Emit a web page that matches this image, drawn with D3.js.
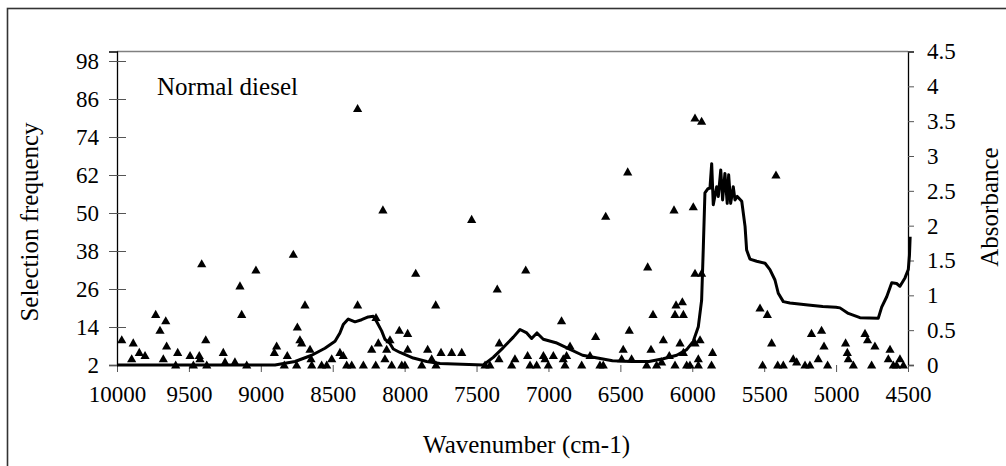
<!DOCTYPE html>
<html>
<head>
<meta charset="utf-8">
<script src="https://cdn.jsdelivr.net/npm/d3@7"></script>
<style>
  body { margin: 0; background: #fff; }
  svg { display: block; }
</style>
</head>
<body>
<svg width="1006" height="466" font-family="Liberation Serif, Times New Roman, serif"></svg>
<script>

// selection frequency markers (wavenumber, frequency)
const markerWn = [
  9967, 9898, 9887, 9845, 9805, 9731, 9701, 9678, 9661, 9655, 9592, 9578, 9492, 9469, 9428, 9423,
  9411, 9383, 9376, 9261, 9249, 9180, 9145, 9133, 9098, 9034, 8906, 8890, 8837, 8816, 8774, 8751,
  8746, 8728, 8716, 8693, 8658, 8651, 8646, 8577, 8542, 8507, 8450, 8427, 8403, 8368, 8327, 8327,
  8287, 8229, 8201, 8199, 8183, 8151, 8137, 8125, 8102, 8090, 8037, 8020, 7998, 7979, 7979, 7923,
  7881, 7840, 7812, 7784, 7782, 7747, 7673, 7603, 7534, 7441, 7407, 7356, 7342, 7344, 7256, 7233,
  7158, 7145, 7128, 7082, 7035, 7024, 7001, 6966, 6909, 6897, 6885, 6874, 6850, 6769, 6711, 6672,
  6642, 6619, 6602, 6491, 6480, 6449, 6438, 6422, 6317, 6310, 6287, 6273, 6248, 6213, 6201, 6160,
  6127, 6120, 6113, 6120, 6085, 6069, 6062, 6062, 6039, 6016, 5993, 5981, 5935, 5981, 5935, 5981,
  5946, 5958, 5958, 5859, 5866, 5529, 5478, 5448, 5418, 5511, 5406, 5367, 5298, 5274, 5216, 5182,
  5171, 5101, 5084, 5124, 5059, 4934, 4922, 4915, 4880, 4799, 4781, 4730, 4753, 4625, 4637, 4602,
  4579, 4556, 4532
];
const markerFreq = [
  10, 4, 9, 6, 5, 18, 13, 4, 16, 8, 2, 6, 5, 2, 5, 4,
  34, 10, 2, 6, 3, 3, 27, 18, 2, 32, 6, 8, 2, 5, 37, 2,
  14, 10, 9, 21, 7, 4, 2, 2, 2, 4, 6, 5, 2, 2, 83, 21,
  2, 7, 2, 17, 9, 51, 4, 7, 10, 2, 13, 2, 2, 12, 7, 31,
  2, 7, 4, 21, 2, 6, 6, 6, 48, 2, 2, 26, 9, 4, 2, 4,
  32, 5, 2, 2, 5, 4, 2, 5, 16, 4, 2, 5, 8, 2, 5, 11,
  2, 2, 49, 4, 7, 63, 13, 4, 2, 33, 7, 18, 2, 3, 10, 5,
  51, 18, 21, 2, 9, 22, 18, 6, 2, 2, 52, 80, 79, 31, 31, 9,
  10, 4, 2, 6, 2, 20, 18, 9, 62, 2, 2, 2, 4, 3, 2, 2,
  12, 13, 8, 4, 2, 9, 6, 4, 2, 12, 10, 8, 2, 7, 4, 2,
  2, 4, 2
];

// absorbance spectrum (wavenumber, absorbance)
const specWn = [
  10000, 8901, 8762, 8646, 8554, 8484, 8450, 8427, 8392, 8345, 8299, 8253, 8218, 8194, 8160, 8137,
  8102, 8079, 8032, 7940, 7847, 7754, 7453, 7384, 7314, 7244, 7198, 7151, 7117, 7080, 7036, 6948,
  6857, 6763, 6659, 6555, 6421, 6301, 6202, 6108, 6039, 5993, 5958, 5935, 5923, 5912, 5891, 5877,
  5865, 5854, 5830, 5819, 5802, 5789, 5773, 5757, 5747, 5733, 5715, 5703, 5687, 5656, 5633, 5622,
  5599, 5552, 5494, 5460, 5425, 5402, 5367, 5321, 5195, 5093, 5001, 4973, 4915, 4834, 4707, 4683,
  4648, 4613, 4579, 4556, 4521, 4498, 4490, 4485
];
const specAbs = [
  0, 0, 0.05, 0.14, 0.24, 0.34, 0.46, 0.58, 0.66, 0.62, 0.65, 0.69, 0.70, 0.62, 0.49, 0.37,
  0.31, 0.23, 0.18, 0.10, 0.05, 0.02, 0, 0.11, 0.25, 0.40, 0.51, 0.46, 0.38, 0.46, 0.37, 0.32,
  0.23, 0.14, 0.10, 0.06, 0.05, 0.05, 0.09, 0.14, 0.22, 0.34, 0.55, 0.93, 1.70, 2.47, 2.53, 2.54,
  2.89, 2.30, 2.56, 2.42, 2.80, 2.37, 2.75, 2.32, 2.73, 2.32, 2.56, 2.37, 2.42, 2.35, 1.99, 1.65,
  1.52, 1.49, 1.46, 1.37, 1.22, 1.03, 0.91, 0.89, 0.86, 0.84, 0.83, 0.82, 0.74, 0.68, 0.67, 0.83,
  0.98, 1.18, 1.17, 1.13, 1.25, 1.37, 1.57, 1.84
];

const xTicks = [10000, 9500, 9000, 8500, 8000, 7500, 7000, 6500, 6000, 5500, 5000, 4500];
const freqTicks = [2, 14, 26, 38, 50, 62, 74, 86, 98];
const absTicks = [0, 0.5, 1, 1.5, 2, 2.5, 3, 3.5, 4, 4.5];

const svg = d3.select("svg");
const serif = "Liberation Serif, Times New Roman, serif";

const plotLeft = 117, plotRight = 908, plotTop = 51.5, plotBottom = 365;

const x = d3.scaleLinear().domain([10000, 4500]).range([plotLeft, plotRight]);
const yFreq = d3.scaleLinear().domain([2, 101]).range([plotBottom, plotTop]);
const yAbs = d3.scaleLinear().domain([0, 4.5]).range([plotBottom, plotTop]);

// outer frame
svg.append("rect")
  .attr("x", 7.5).attr("y", 8.5)
  .attr("width", 1010).attr("height", 470)
  .style("fill", "none")
  .style("stroke", "#333")
  .style("stroke-width", 1.6)

// plot area top edge
svg.append("line")
  .attr("x1", plotLeft).attr("x2", plotRight)
  .attr("y1", plotTop).attr("y2", plotTop)
  .style("stroke", "#808080")
  .style("stroke-width", 1.3)

// axes

const xAxis = svg.append("g")
  .attr("transform", `translate(0,${plotBottom})`)
  .call(d3.axisBottom(x).tickValues(xTicks).tickSize(7).tickPadding(14).tickFormat(d => d))

const leftAxis = svg.append("g")
  .attr("transform", `translate(${plotLeft},0)`)
  .call(d3.axisLeft(yFreq).tickValues(freqTicks).tickSize(8).tickPadding(10).tickFormat(d => d))
leftAxis.selectAll(".tick line").attr("x1", 9)

const rightAxis = svg.append("g")
  .attr("transform", `translate(${plotRight},0)`)
  .call(d3.axisRight(yAbs).tickValues(absTicks).tickSize(6).tickPadding(13).tickFormat(d => d))

;[xAxis, leftAxis, rightAxis].forEach(g => g.attr("font-family", serif).attr("font-size", 23))

svg.selectAll(".domain").style("stroke", "#000").style("stroke-width", 1.3)
svg.selectAll(".tick line").style("stroke", "#555")
svg.selectAll(".tick text").style("fill", "#000")
xAxis.select(".domain").remove()

// absorbance line

const line = d3.line()
  .x((d, i) => x(specWn[i]))
  .y(d => yAbs(d))

svg.append("path")
  .datum(specAbs)
  .attr("d", line)
  .style("fill", "none")
  .style("stroke", "#000")
  .style("stroke-width", 3)
  .style("stroke-linejoin", "round")

// triangle markers

svg.selectAll(".marker").data(markerFreq)
  .enter().append("path")
    .attr("class", "marker")
    .attr("d", "M0,-4.5L4.6,3.6L-4.6,3.6Z")
    .attr("transform", (d, i) => `translate(${x(markerWn[i])},${yFreq(d)})`)
    .style("fill", "#000")

// labels

svg.append("text")
  .attr("x", 157).attr("y", 95)
  .attr("font-size", 25)
  .text("Normal diesel")

svg.append("text")
  .attr("x", (plotLeft + plotRight) / 2 + 14).attr("y", 453)
  .attr("text-anchor", "middle")
  .attr("font-size", 25)
  .text("Wavenumber (cm-1)")

svg.append("text")
  .attr("transform", "translate(38,222) rotate(-90)")
  .attr("text-anchor", "middle")
  .attr("font-size", 25)
  .text("Selection frequency")

svg.append("text")
  .attr("transform", "translate(998,207) rotate(-90)")
  .attr("text-anchor", "middle")
  .attr("font-size", 25)
  .text("Absorbance")

</script>
</body>
</html>
